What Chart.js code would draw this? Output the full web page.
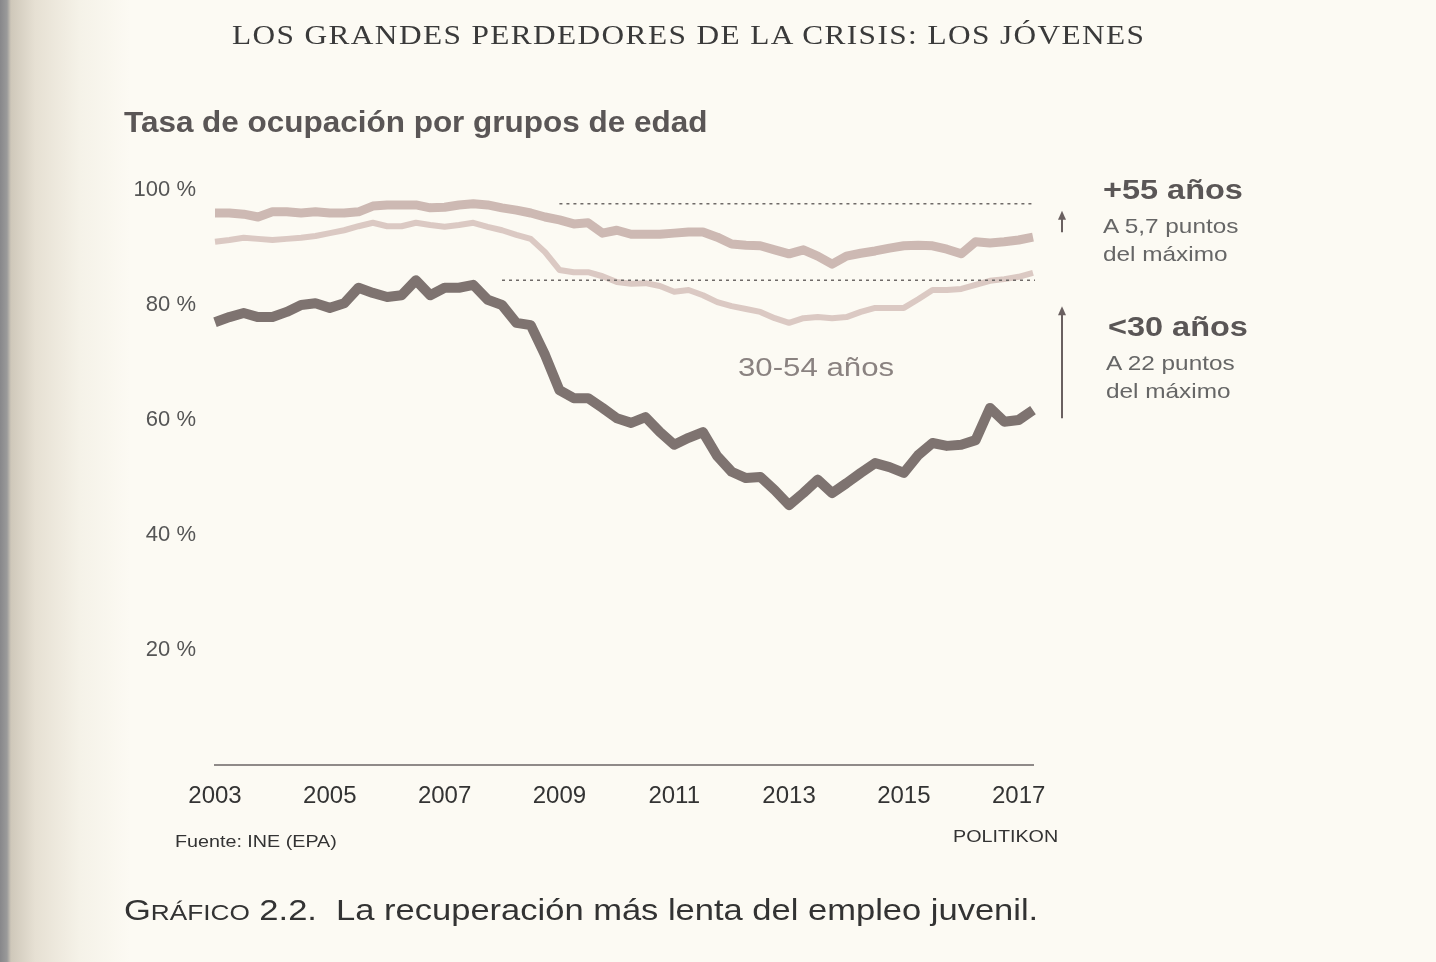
<!DOCTYPE html>
<html>
<head>
<meta charset="utf-8">
<script src="https://cdn.jsdelivr.net/npm/chart.js@4.4.1/dist/chart.umd.min.js"></script>
<style>
  html, body { margin: 0; padding: 0; }
  body {
    width: 1436px; height: 962px; overflow: hidden; position: relative;
    background: linear-gradient(to right, #87878a 0px, #9a9a9a 7px, #cfc8ba 11px, #e6e0d3 35px, #f5f2e8 80px, #fcfaf3 130px);
    font-family: "Liberation Sans", Arial, sans-serif;
  }
  #wrap { position: absolute; left: 0; top: 0; width: 1436px; height: 962px; }
  /* the scanned page is a bit wider than tall, so stretch text sideways */
  .txt { position: absolute; white-space: nowrap; transform: scaleX(1.16); transform-origin: 0 0; }
  #header { left: 232px; top: 20px; font-family: "Liberation Serif", serif; font-size: 27px; color: #3a3a3a; letter-spacing: 1.2px; }
  #title { left: 124px; top: 106px; font-size: 29px; font-weight: bold; color: #5a5656; transform: scaleX(1.085); }
  #source { left: 175px; top: 832px; font-size: 17px; color: #333; }
  #brand { left: 953px; top: 827px; font-size: 17px; color: #333; }
  #caption { left: 124px; top: 894px; font-size: 29px; color: #333; transform: scaleX(1.19); }
  #caption .sc { font-size: 22px; }
  .lab-b { font-size: 28px; font-weight: bold; color: #5a5656; }
  .lab { font-size: 21px; color: #666; line-height: 28px; }
  #mid { left: 738px; top: 352px; font-size: 26px; color: #8a8280; transform: scaleX(1.2); }
</style>
</head>
<body>
<div id="wrap"><canvas id="myChart" width="1436" height="962"></canvas></div>
<div class="txt" id="header">LOS GRANDES PERDEDORES DE LA CRISIS: LOS JÓVENES</div>
<div class="txt" id="title">Tasa de ocupación por grupos de edad</div>
<div class="txt lab-b" style="left:1103px; top:174px;">+55 años</div>
<div class="txt lab" style="left:1103px; top:212px;">A 5,7 puntos<br>del máximo</div>
<div class="txt lab-b" style="left:1108px; top:311px;">&lt;30 años</div>
<div class="txt lab" style="left:1106px; top:349px;">A 22 puntos<br>del máximo</div>
<div class="txt" id="mid">30-54 años</div>
<div class="txt" id="source">Fuente: INE (EPA)</div>
<div class="txt" id="brand">POLITIKON</div>
<div class="txt" id="caption">G<span class="sc">RÁFICO</span> 2.2.&nbsp; La recuperación más lenta del empleo juvenil.</div>

<script>
// quarterly data, 2003T1 .. 2017T2
const years = [2003, 2004, 2005, 2006, 2007, 2008, 2009, 2010, 2011, 2012, 2013, 2014, 2015, 2016, 2017]
const quarters = []
years.forEach((y) => [1, 2, 3, 4].forEach((q) => quarters.push(y + "T" + q)))
quarters.length = 58

const mayores55 = [
  96.0, 96.0, 95.8, 95.3, 96.2, 96.2, 96.0, 96.2, 96.0, 96.0,
  96.2, 97.2, 97.4, 97.4, 97.4, 96.9, 97.0, 97.4, 97.6, 97.4,
  96.9, 96.5, 96.0, 95.3, 94.8, 94.1, 94.3, 92.5, 93.0, 92.3,
  92.3, 92.3, 92.5, 92.7, 92.7, 91.8, 90.6, 90.4, 90.3, 89.6,
  88.9, 89.6, 88.5, 87.1, 88.5, 89.0, 89.4, 89.9, 90.3, 90.4,
  90.3, 89.7, 88.9, 91.0, 90.8, 91.0, 91.3, 91.8
]
const entre30y54 = [
  91.0, 91.3, 91.7, 91.5, 91.3, 91.5, 91.7, 92.0, 92.5, 93.0,
  93.7, 94.3, 93.7, 93.7, 94.3, 93.9, 93.6, 93.9, 94.3, 93.6,
  93.0, 92.2, 91.5, 89.2, 86.1, 85.7, 85.7, 85.0, 84.0, 83.7,
  83.8, 83.3, 82.3, 82.6, 81.7, 80.5, 79.8, 79.3, 78.8, 77.7,
  76.9, 77.7, 77.9, 77.7, 77.9, 78.8, 79.5, 79.5, 79.5, 81.0,
  82.6, 82.6, 82.8, 83.5, 84.2, 84.5, 84.9, 85.6
]
const menores30 = [
  77.0, 77.9, 78.6, 77.9, 77.9, 78.8, 80.0, 80.3, 79.5, 80.3,
  83.0, 82.1, 81.4, 81.7, 84.3, 81.7, 83.0, 83.0, 83.5, 80.9,
  80.0, 76.9, 76.5, 71.3, 65.2, 63.8, 63.8, 62.1, 60.3, 59.5,
  60.5, 57.9, 55.7, 56.9, 57.9, 53.7, 51.0, 49.9, 50.1, 47.8,
  45.2, 47.3, 49.6, 47.3, 49.0, 50.8, 52.5, 51.8, 50.8, 53.9,
  56.0, 55.5, 55.7, 56.5, 62.1, 59.7, 60.0, 61.7
]

// dotted "maximum" reference lines: series, first quarter index
const maxLines = [
  { data: mayores55, from: 24, gapTop: 7, gapBottom: 5 },
  { data: menores30, from: 20, gapTop: 26, gapBottom: -8 }
]

const refPlugin = {
  id: "refLines",
  afterDatasetsDraw(chart) {
    const { ctx, scales, chartArea } = chart
    const arrowX = 1062
    ctx.save()
    maxLines.forEach((m) => {
      const maxY = scales.y.getPixelForValue(Math.max(...m.data))
      const endY = scales.y.getPixelForValue(m.data[m.data.length - 1])
      ctx.strokeStyle = "#6f6a68"
      ctx.lineWidth = 1.6
      ctx.setLineDash([3, 4])
      ctx.beginPath()
      ctx.moveTo(scales.x.getPixelForValue(m.from), maxY)
      ctx.lineTo(chartArea.right + 2, maxY)
      ctx.stroke()
      // arrow
      ctx.setLineDash([])
      ctx.strokeStyle = "#6a6060"
      ctx.fillStyle = "#6a6060"
      ctx.lineWidth = 2
      const top = maxY + m.gapTop
      ctx.beginPath()
      ctx.moveTo(arrowX, endY - m.gapBottom)
      ctx.lineTo(arrowX, top + 6)
      ctx.stroke()
      ctx.beginPath()
      ctx.moveTo(arrowX, top)
      ctx.lineTo(arrowX - 4, top + 9)
      ctx.lineTo(arrowX + 4, top + 9)
      ctx.closePath()
      ctx.fill()
    })
    ctx.restore()
  }
}

const ctx = document.getElementById("myChart")
new Chart(ctx, {
  type: "line",
  data: {
    labels: quarters,
    datasets: [
      { label: "+55 años", data: mayores55, borderColor: "#cdb9b3", borderWidth: 9 },
      { label: "30-54 años", data: entre30y54, borderColor: "#dbc9c3", borderWidth: 6 },
      { label: "<30 años", data: menores30, borderColor: "#7e7370", borderWidth: 10 }
    ]
  },
  options: {
    responsive: false,
    animation: false,
    layout: { padding: { top: 190, right: 403, left: 0, bottom: 0 } },
    elements: {
      point: { radius: 0 },
      line: { tension: 0, borderJoinStyle: "round", borderCapStyle: "butt" }
    },
    datasets: { line: { clip: false } },
    plugins: { legend: { display: false }, tooltip: { enabled: false } },
    scales: {
      x: {
        grid: { display: false },
        border: { display: true, color: "#8f8a88", width: 2 },
        ticks: {
          autoSkip: false,
          maxRotation: 0,
          padding: 9,
          color: "#333",
          font: { family: "Liberation Sans", size: 24 },
          callback: function (v, i) {
            const q = quarters[i]
            const y = parseInt(q)
            return q.endsWith("T1") && y % 2 === 1 ? String(y) : ""
          }
        },
        afterFit: (s) => { s.height = 962 - 765 }
      },
      y: {
        min: 0,
        max: 100,
        grid: { display: false },
        border: { display: false },
        ticks: {
          stepSize: 20,
          padding: 11,
          color: "#555",
          font: { family: "Liberation Sans", size: 22 },
          callback: (v) => (v > 0 ? v + " %" : "")
        },
        afterFit: (s) => { s.width = 215 }
      }
    }
  },
  plugins: [refPlugin]
})
</script>
</body>
</html>
